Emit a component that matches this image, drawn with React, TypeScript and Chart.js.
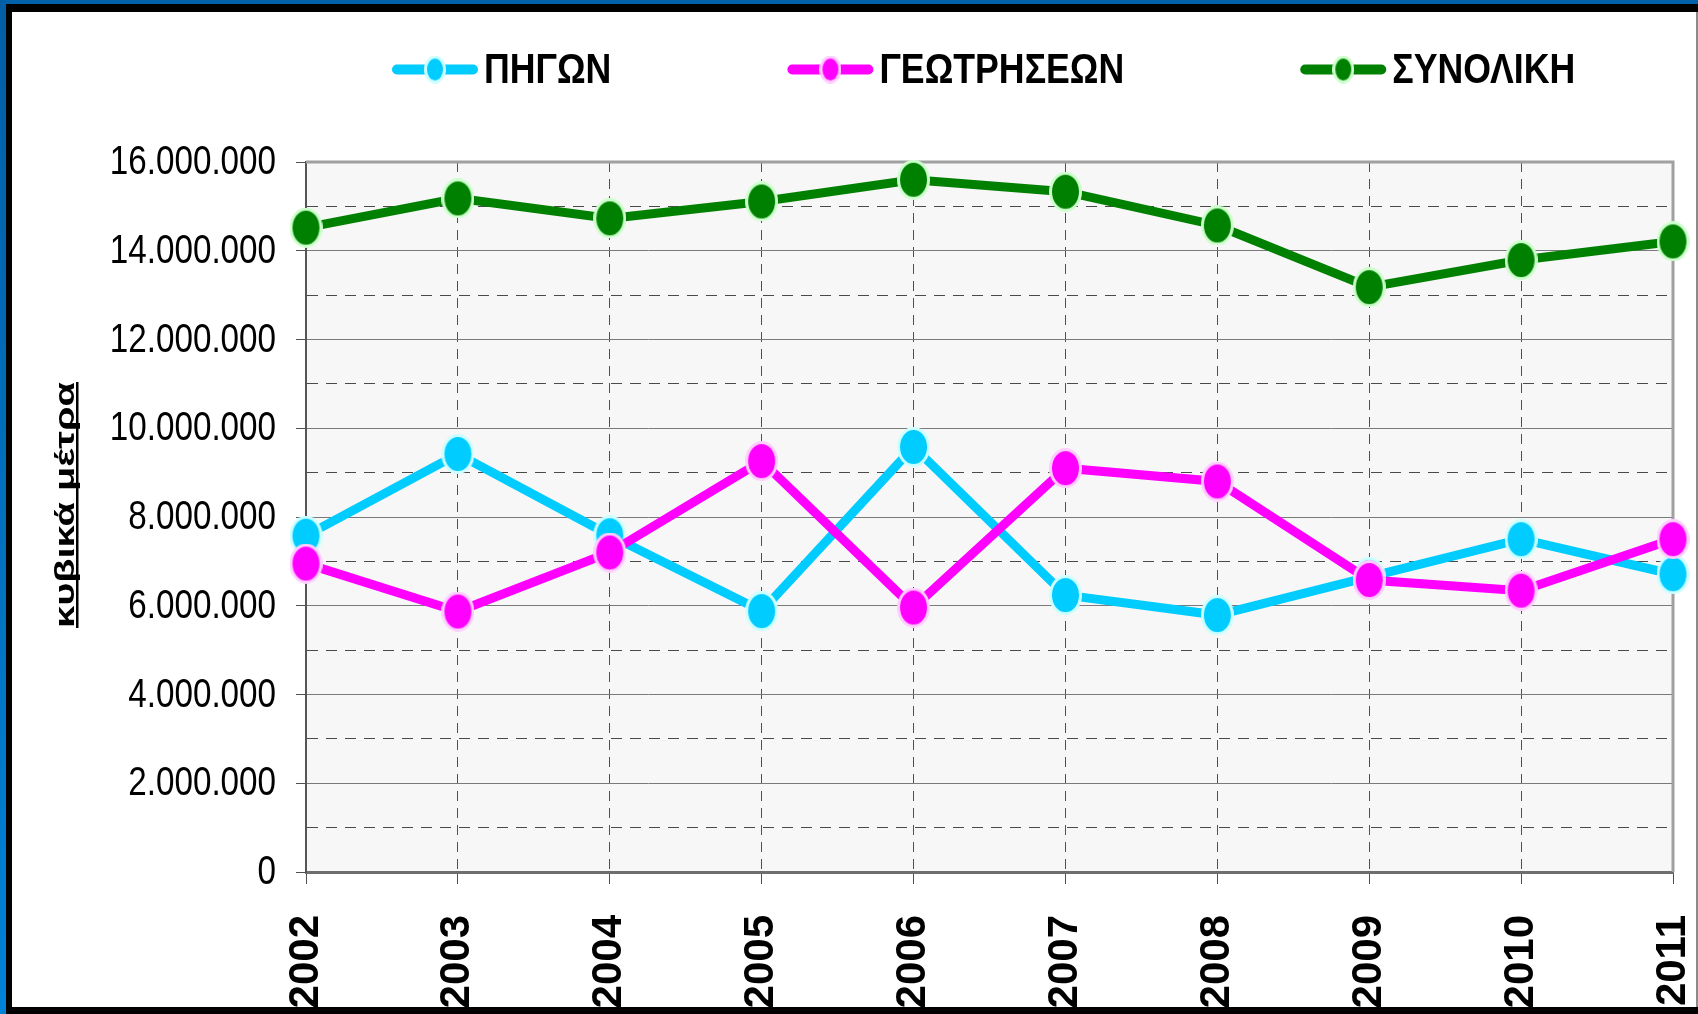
import React, { useEffect, useRef } from "react";
import { Chart, registerables } from "chart.js";

Chart.register(...registerables);

const years = ["2002", "2003", "2004", "2005", "2006", "2007", "2008", "2009", "2010", "2011"];
const pigon = [7580000, 9420000, 7590000, 5880000, 9580000, 6240000, 5790000, 6650000, 7500000, 6710000];
const geotriseon = [6950000, 5870000, 7200000, 9260000, 5960000, 9100000, 8800000, 6580000, 6340000, 7500000];
const synoliki = [14520000, 15180000, 14730000, 15110000, 15600000, 15330000, 14570000, 13180000, 13790000, 14210000];
const seriesLabels = ["ΠΗΓΩΝ", "ΓΕΩΤΡΗΣΕΩΝ", "ΣΥΝΟΛΙΚΗ"];
const yAxisTitle = "κυβικά μέτρα";
const yMin = 0;
const yMax = 16000000;
const yMajorStep = 2000000;
const yMinorStep = 1000000;

const fills = ["#00CCFF", "#FF00FF", "#008000"];
const rims = ["#CCFFFF", "#FFCCFF", "#CCFFCC"];
const NARROW = 0.83;

function fmt(v: number): string {
  return String(Math.round(v)).replace(/\B(?=(\d{3})+(?!\d))/g, ".");
}

function makeEllipse(w: number, h: number, fill: string, stroke: string, lw: number): HTMLCanvasElement {
  const c = document.createElement("canvas");
  c.width = w;
  c.height = h;
  const g = c.getContext("2d")!;
  g.beginPath();
  g.ellipse(w / 2, h / 2, w / 2 - lw / 2, h / 2 - lw / 2, 0, 0, Math.PI * 2);
  g.fillStyle = fill;
  g.fill();
  g.lineWidth = lw;
  g.strokeStyle = stroke;
  g.stroke();
  return c;
}

export default function App() {
  const ref = useRef<HTMLCanvasElement | null>(null);

  useEffect(() => {
    document.body.style.margin = "0";
    const canvas = ref.current!;
    const pointImgs = fills.map((f, i) => makeEllipse(33, 40, f, rims[i], 3));
    const legendImgs = fills.map((f, i) => makeEllipse(22, 28, f, rims[i], 3));

    const decor = {
      id: "decor",
      beforeDraw(chart: any) {
        const { ctx, chartArea: a } = chart;
        ctx.save();
        ctx.fillStyle = "#ffffff";
        ctx.fillRect(0, 0, chart.width, chart.height);
        ctx.fillStyle = "#F7F7F7";
        ctx.fillRect(a.left, a.top, a.right - a.left, a.bottom - a.top);
        ctx.restore();
      },
      beforeDatasetsDraw(chart: any) {
        const { ctx, chartArea: a } = chart;
        ctx.save();
        ctx.strokeStyle = "#A0A0A0";
        ctx.lineWidth = 3;
        ctx.beginPath();
        ctx.moveTo(a.left, a.top);
        ctx.lineTo(a.right, a.top);
        ctx.lineTo(a.right, a.bottom);
        ctx.stroke();
        ctx.restore();
      },
      afterDraw(chart: any) {
        const { ctx } = chart;
        const W = chart.width;
        const H = chart.height;
        ctx.save();
        // y tick labels (narrow look)
        const ys = chart.scales.y;
        ctx.font = '40px "Liberation Sans", Arial, sans-serif';
        ctx.fillStyle = "#000";
        ctx.textAlign = "right";
        ctx.textBaseline = "middle";
        ys.ticks.forEach((t: any) => {
          if (Math.round(t.value) % yMajorStep !== 0) return;
          const py = ys.getPixelForValue(t.value);
          ctx.save();
          ctx.translate(276, py + 1);
          ctx.scale(NARROW, 1);
          ctx.fillText(fmt(t.value), 0, 0);
          ctx.restore();
        });
        // legend
        const ly = 69.5;
        let x = 392;
        ctx.font = 'bold 43px "Liberation Sans", Arial, sans-serif';
        ctx.textBaseline = "alphabetic";
        ctx.textAlign = "left";
        chart.data.datasets.forEach((ds: any, i: number) => {
          ctx.strokeStyle = fills[i];
          ctx.lineWidth = 10;
          ctx.lineCap = "round";
          ctx.beginPath();
          ctx.moveTo(x + 5, ly);
          ctx.lineTo(x + 81, ly);
          ctx.stroke();
          const img = legendImgs[i];
          ctx.drawImage(img, x + 43 - img.width / 2, ly - img.height / 2);
          ctx.fillStyle = "#000";
          ctx.save();
          ctx.translate(x + 92, 83);
          ctx.scale(NARROW, 1);
          ctx.fillText(ds.label, 0, 0);
          ctx.restore();
          x = x + 92 + ctx.measureText(ds.label).width * NARROW + 176;
        });
        // y axis title
        ctx.save();
        ctx.translate(74, 505);
        ctx.rotate(-Math.PI / 2);
        ctx.font = 'bold 28px "Liberation Sans", Arial, sans-serif';
        const tw = ctx.measureText(yAxisTitle).width;
        ctx.scale(246 / tw, 1);
        ctx.fillStyle = "#000";
        ctx.textAlign = "center";
        ctx.textBaseline = "alphabetic";
        ctx.fillText(yAxisTitle, 0, 0);
        ctx.fillRect(-tw / 2, 2, tw, 2.5);
        ctx.restore();
        // frame
        const grad = ctx.createLinearGradient(0, 0, 0, H);
        grad.addColorStop(0, "#005EA6");
        grad.addColorStop(1, "#0082D6");
        ctx.fillStyle = "#0062AA";
        ctx.fillRect(0, 0, W, 4);
        ctx.fillStyle = grad;
        ctx.fillRect(0, 0, 6, H);
        ctx.fillStyle = "#000";
        ctx.fillRect(6, 4, W - 6, 8);
        ctx.fillRect(6, 4, 6, H - 4);
        ctx.fillRect(6, H - 7, W - 6, 7);
        ctx.fillStyle = "#8a8a8a";
        ctx.fillRect(W - 2, 12, 2, H - 19);
        ctx.restore();
      },
    };

    const isMajor = (c: any) => c && c.tick && Math.round(c.tick.value) % yMajorStep === 0;

    const chart = new Chart(canvas, {
      type: "line",
      data: {
        labels: years,
        datasets: [
          {
            label: seriesLabels[0],
            data: pigon,
            borderColor: fills[0],
            backgroundColor: fills[0],
            borderWidth: 9,
            pointStyle: pointImgs[0] as any,
            pointRadius: 16,
            clip: false as any,
            order: 1,
          },
          {
            label: seriesLabels[1],
            data: geotriseon,
            borderColor: fills[1],
            backgroundColor: fills[1],
            borderWidth: 9,
            pointStyle: pointImgs[1] as any,
            pointRadius: 16,
            clip: false as any,
            order: 0,
          },
          {
            label: seriesLabels[2],
            data: synoliki,
            borderColor: fills[2],
            backgroundColor: fills[2],
            borderWidth: 9,
            pointStyle: pointImgs[2] as any,
            pointRadius: 16,
            clip: false as any,
            order: 2,
          },
        ],
      },
      options: {
        responsive: false,
        animation: false,
        events: [],
        layout: { padding: { top: 162, right: 25, left: 0, bottom: 0 } },
        plugins: {
          legend: { display: false },
          tooltip: { enabled: false },
          title: { display: false },
        },
        scales: {
          x: {
            type: "category",
            offset: false,
            grid: {
              color: "#505050",
              lineWidth: 1,
              drawTicks: true,
              tickLength: 12,
              tickColor: "#505050",
              tickWidth: 1,
              tickBorderDash: [],
            },
            border: { display: true, color: "#6e6e6e", width: 3, dash: [10, 7] },
            ticks: {
              color: "#000",
              font: { family: '"Liberation Sans", Arial, sans-serif', weight: "bold", size: 42 },
              minRotation: 90,
              maxRotation: 90,
              padding: 31,
              autoSkip: false,
            },
            afterFit: (s: any) => {
              s.height = 142;
              s.paddingLeft = 0;
              s.paddingRight = 0;
            },
          },
          y: {
            min: yMin,
            max: yMax,
            grid: {
              color: (c: any) => (isMajor(c) ? "#7a7a7a" : "#4a4a4a"),
              lineWidth: 1,
              drawTicks: true,
              tickLength: 10,
              tickColor: (c: any) => (isMajor(c) ? "#505050" : "rgba(0,0,0,0)"),
              tickBorderDash: [],
            },
            border: {
              display: true,
              color: "#555",
              width: 2,
              dash: (c: any) => (c && c.tick && !isMajor(c) ? [11, 8] : []),
            } as any,
            ticks: {
              stepSize: yMinorStep,
              autoSkip: false,
              color: "rgba(0,0,0,0)",
              padding: 23,
              font: { family: '"Liberation Sans", Arial, sans-serif', size: 40 },
              callback: (v: any) => (Math.round(Number(v)) % yMajorStep === 0 ? fmt(Number(v)) : ""),
            },
            afterFit: (s: any) => {
              s.width = 306;
              s.paddingTop = 0;
              s.paddingBottom = 0;
            },
          },
        },
      },
      plugins: [decor],
    });

    return () => chart.destroy();
  }, []);

  return (
    <div style={{ position: "relative", width: 1698, height: 1014, overflow: "hidden" }}>
      <canvas ref={ref} width={1698} height={1014} style={{ display: "block", width: 1698, height: 1014 }} />
    </div>
  );
}
